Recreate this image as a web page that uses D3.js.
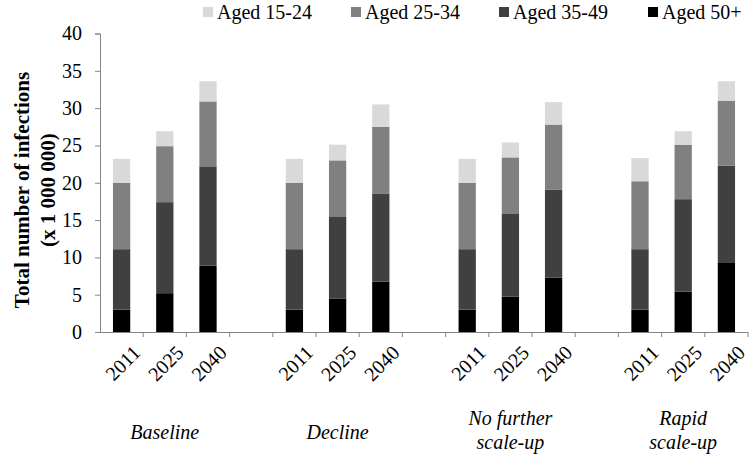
<!DOCTYPE html>
<html>
<head>
<meta charset="utf-8">
<script src="https://cdn.jsdelivr.net/npm/d3@7"></script>
<style>
  html, body { margin: 0; padding: 0; background: #fff; }
  svg { display: block; }
  svg text { font-family: "Liberation Serif", "Times New Roman", serif; }
</style>
</head>
<body>
<svg id="chart" width="750" height="454"></svg>
<script>
// ---- data ----
const scenarios = ["Baseline", "Decline", "No further scale-up", "Rapid scale-up"];
const scenarioLines = [["Baseline"], ["Decline"], ["No further", "scale-up"], ["Rapid", "scale-up"]];
const years = ["2011", "2025", "2040"];
const ageGroups = ["Aged 15-24", "Aged 25-34", "Aged 35-49", "Aged 50+"];
// values in millions, bar order: scenario x year
const aged50 = [3.0, 5.2, 8.9, 3.0, 4.5, 6.75, 3.0, 4.75, 7.3, 3.0, 5.4, 9.25];
const aged3549 = [8.1, 12.2, 13.3, 8.1, 11.0, 11.75, 8.1, 11.15, 11.8, 8.1, 12.4, 13.05];
const aged2534 = [8.9, 7.5, 8.7, 8.9, 7.5, 9.0, 8.9, 7.5, 8.7, 9.1, 7.3, 8.7];
const aged1524 = [3.2, 2.0, 2.7, 3.2, 2.1, 3.0, 3.2, 2.0, 3.0, 3.1, 1.8, 2.6];
const yTicks = [0, 5, 10, 15, 20, 25, 30, 35, 40];

const colors = { "Aged 15-24": "#d9d9d9", "Aged 25-34": "#808080", "Aged 35-49": "#404040", "Aged 50+": "#000000" };
const FONT = "Liberation Serif";

// ---- build table ----
const rows = [];
scenarios.forEach((s, si) => {
  years.forEach((yr, yi) => {
    const i = si * 3 + yi;
    rows.push({ key: s + "|" + yr, scenario: s, year: yr,
      "Aged 50+": aged50[i], "Aged 35-49": aged3549[i], "Aged 25-34": aged2534[i], "Aged 15-24": aged1524[i] });
  });
});
// slots: 3 bars per scenario + a gap slot between scenarios
const slots = [];
scenarios.forEach((s, si) => {
  years.forEach(yr => slots.push(s + "|" + yr));
  if (si < scenarios.length - 1) slots.push("gap" + si);
});

const svg = d3.select("#chart");
const mLeft = 100, mRight = 748, mTop = 33.5, mBottom = 332;

const pIn = 0.6;
const x = d3.scaleBand().domain(slots).range([mLeft, mRight]).paddingInner(pIn).paddingOuter(pIn / 2);
const y = d3.scaleLinear().domain([0, 40]).range([mBottom, mTop]);

const stackOrder = ["Aged 50+", "Aged 35-49", "Aged 25-34", "Aged 15-24"];
const series = d3.stack().keys(stackOrder)(rows);

// bars
svg.append("g").selectAll("g").data(series).join("g")
  .attr("fill", d => colors[d.key])
  .selectAll("rect").data(d => d).join("rect")
  .attr("x", d => x(d.data.key))
  .attr("width", x.bandwidth())
  .attr("y", d => y(d[1]))
  .attr("height", d => y(d[0]) - y(d[1]));

const axisColor = "#868686";

// y axis
const yAxis = svg.append("g").attr("transform", `translate(${mLeft},0)`)
  .call(d3.axisLeft(y).tickValues(yTicks).tickSize(5).tickPadding(13).tickFormat(d3.format("d")));
yAxis.attr("font-family", FONT);
yAxis.select(".domain").attr("stroke", axisColor);
yAxis.selectAll(".tick line").attr("stroke", axisColor);
yAxis.selectAll(".tick text").attr("font-family", FONT).attr("font-size", 20).attr("fill", "#000");

// x axis
const xAxis = svg.append("g").attr("transform", `translate(0,${mBottom})`)
  .call(d3.axisBottom(x).tickSize(0).tickFormat(() => ""));
xAxis.select(".domain").attr("stroke", axisColor).attr("d", `M${mLeft},0.5H${mRight}`);
// boundary ticks
const step = x.step();
xAxis.append("g").selectAll("line").data(slots).join("line")
  .attr("x1", d => x(d) - step * pIn / 2 + step).attr("x2", d => x(d) - step * pIn / 2 + step)
  .attr("y1", 0).attr("y2", 5).attr("stroke", axisColor);

// year labels
svg.append("g").selectAll("text").data(rows).join("text")
  .attr("text-anchor", "end")
  .attr("font-family", FONT)
  .attr("font-size", 20)
  .attr("transform", d => `translate(${x(d.key) + x.bandwidth() / 2 + 20},${mBottom + 22}) rotate(-45)`)
  .text(d => d.year);

// scenario labels
scenarios.forEach((s, si) => {
  const cx = (x(s + "|2011") + x(s + "|2040") + x.bandwidth()) / 2;
  const lines = scenarioLines[si];
  const t = svg.append("text").attr("text-anchor", "middle").attr("font-size", 20)
    .attr("font-family", FONT).attr("font-style", "italic").attr("x", cx);
  if (lines.length === 1) {
    t.attr("y", 439).text(lines[0]);
  } else {
    lines.forEach((ln, li) => t.append("tspan").attr("x", cx).attr("y", 425 + li * 24).text(ln));
  }
});

// y title
const yt = svg.append("text").attr("font-weight", "bold").attr("font-size", 21)
  .attr("font-family", FONT)
  .attr("text-anchor", "middle").attr("transform", "translate(0,190) rotate(-90)");
yt.append("tspan").attr("x", 0).attr("y", 29).text("Total number of infections");
yt.append("tspan").attr("x", 0).attr("y", 55).text("(x 1 000 000)");

// legend
const legendX = [203, 351, 499, 648];
const lg = svg.append("g").selectAll("g").data(ageGroups).join("g")
  .attr("transform", (d, i) => `translate(${legendX[i]},0)`);
lg.append("rect").attr("x", 0).attr("y", 7).attr("width", 10).attr("height", 10).attr("fill", d => colors[d]);
lg.append("text").attr("x", 14).attr("y", 19).attr("font-family", FONT).attr("font-size", 20).text(d => d);
</script>
</body>
</html>
